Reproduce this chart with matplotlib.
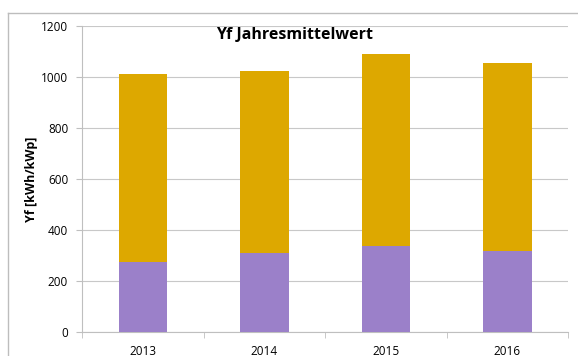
import matplotlib.pyplot as plt
from matplotlib.lines import Line2D

# Annual yield per year, split into two stacked parts
years = ['2013', '2014', '2015', '2016']
lower = [276, 309, 338, 319]
total = [1012, 1024, 1090, 1055]
upper = [t - l for t, l in zip(total, lower)]

plt.rcParams['font.family'] = ['Open Sans', 'DejaVu Sans']

fig = plt.figure(figsize=(5.78, 3.56), dpi=100)
ax = fig.add_axes([0.142, 0.0674, 0.841, 0.8596])

x = range(len(years))
ax.bar(x, lower, width=0.4, color='#9B80C9', zorder=3)
ax.bar(x, upper, width=0.4, bottom=lower, color='#DDA800', zorder=3)

ax.set_ylim(0, 1200)
ax.set_yticks(range(0, 1201, 200))
ax.set_xlim(-0.5, len(years) - 0.5)
ax.set_xticks(list(x))
ax.set_xticklabels(years)
ax.set_xticks([i + 0.5 for i in range(-1, len(years))], minor=True)

ax.grid(axis='y', color='#C8C8C8', linewidth=0.8, zorder=0)
for s in ['top', 'right']:
    ax.spines[s].set_visible(False)
for s in ['left', 'bottom']:
    ax.spines[s].set_color('#BFBFBF')
ax.tick_params(axis='y', length=4, color='#BFBFBF', labelsize=8.5, pad=6)
ax.tick_params(axis='x', which='major', length=0, labelsize=8.5, pad=9)
ax.tick_params(axis='x', which='minor', length=4, color='#BFBFBF')

ax.set_ylabel('Yf [kWh/kWp]', fontsize=9, fontweight='bold', labelpad=2)
fig.text(0.51, 0.902, 'Yf Jahresmittelwert', ha='center', va='center',
         fontsize=11.5, fontweight='bold')

# outer chart frame
fig.add_artist(Line2D([0.014, 1.0], [0.9635, 0.9635], color='#BDBDBD', lw=1))
fig.add_artist(Line2D([0.014, 0.014], [0.0, 0.9635], color='#BDBDBD', lw=1))

fig.savefig('out.png', dpi=100)
